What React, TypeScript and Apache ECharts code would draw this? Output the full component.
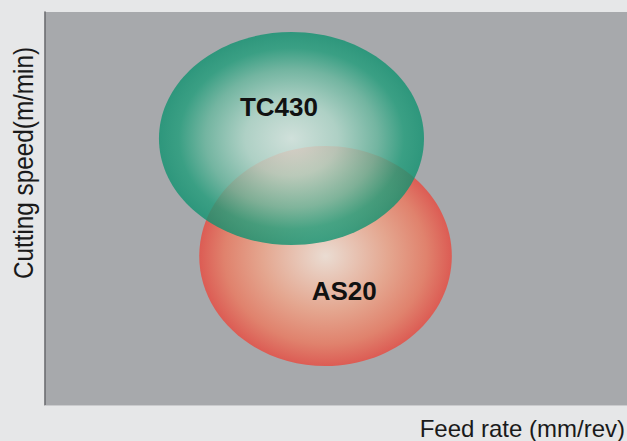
import React, { useEffect, useRef } from "react";
import * as echarts from "echarts";

// Ellipse regions: [centerX, centerY, radiusX, radiusY] in axis units (0..100)
const regionNames = ["AS20", "TC430"];
const regionCenters = [
  [48.2, 37.9],
  [42.35, 67.8],
];
const regionRadii = [
  [21.7, 28.0],
  [22.77, 27.1],
];
const labelPositions = [
  [51.4, 29.0],
  [40.2, 75.8],
];
const regionOpacity = [1, 0.8];
const regionStops = [
  [
    [0, "#eadcd2"],
    [0.5, "#e4a68f"],
    [0.8, "#e0826d"],
    [1, "#dc5c54"],
  ],
  [
    [0, "#daeee6"],
    [0.35, "#b0dacb"],
    [0.65, "#66b89e"],
    [0.85, "#1f9d7a"],
    [1, "#109270"],
  ],
];
const xAxisTitle = "Feed rate (mm/rev)";
const yAxisTitle = "Cutting speed(m/min)";

export default function App() {
  const ref = useRef<HTMLDivElement>(null);
  useEffect(() => {
    document.body.style.margin = "0";
    const chart = echarts.init(ref.current!, null, { renderer: "svg" });
    const ellipseData = regionNames.map((n, i) => [
      regionCenters[i][0],
      regionCenters[i][1],
      regionRadii[i][0],
      regionRadii[i][1],
      i,
    ]);
    const labelData = regionNames.map((n, i) => [
      labelPositions[i][0],
      labelPositions[i][1],
      i,
    ]);
    chart.setOption({
      animation: false,
      backgroundColor: "#e6e7e8",
      grid: {
        left: 45,
        right: 0,
        top: 12,
        bottom: 36,
        show: true,
        backgroundColor: "#a7a9ac",
        borderWidth: 0,
      },
      xAxis: {
        type: "value",
        min: 0,
        max: 100,
        axisLine: { show: true, lineStyle: { color: "#cacbcd", width: 1 } },
        axisTick: { show: false },
        axisLabel: { show: false },
        splitLine: { show: false },
      },
      yAxis: {
        type: "value",
        min: 0,
        max: 100,
        axisLine: { show: true, lineStyle: { color: "#6d6e71", width: 1.6 } },
        axisTick: { show: false },
        axisLabel: { show: false },
        splitLine: { show: false },
      },
      graphic: [
        {
          type: "text",
          x: 24,
          y: 163,
          rotation: Math.PI / 2,
          scaleX: 0.9,
          style: {
            text: yAxisTitle,
            font: "27px 'Liberation Sans', Arial, sans-serif",
            fill: "#1a1a1a",
            align: "center",
            verticalAlign: "middle",
          },
        },
        {
          type: "text",
          x: 625,
          y: 428,
          style: {
            text: xAxisTitle,
            font: "24px 'Liberation Sans', Arial, sans-serif",
            fill: "#1a1a1a",
            align: "right",
            verticalAlign: "middle",
          },
        },
      ],
      series: [
        {
          type: "custom",
          data: ellipseData,
          renderItem: (params: any, api: any) => {
            const c = api.coord([api.value(0), api.value(1)]);
            const s = api.size([api.value(2), api.value(3)]);
            const idx = api.value(4);
            return {
              type: "ellipse",
              shape: { cx: c[0], cy: c[1], rx: s[0], ry: s[1] },
              style: {
                fill: new echarts.graphic.RadialGradient(
                  0.5,
                  0.5,
                  0.5,
                  regionStops[idx].map((st) => ({
                    offset: st[0] as number,
                    color: st[1] as string,
                  }))
                ),
                opacity: regionOpacity[idx],
              },
            };
          },
        },
        {
          type: "custom",
          data: labelData,
          z: 5,
          renderItem: (params: any, api: any) => {
            const c = api.coord([api.value(0), api.value(1)]);
            const idx = api.value(2);
            return {
              type: "text",
              x: c[0],
              y: c[1],
              style: {
                text: regionNames[idx],
                font: "bold 26px 'Liberation Sans', Arial, sans-serif",
                fill: "#111111",
                align: "center",
                verticalAlign: "middle",
              },
            };
          },
        },
      ],
    });
    return () => chart.dispose();
  }, []);
  return <div ref={ref} style={{ width: 627, height: 441 }} />;
}
